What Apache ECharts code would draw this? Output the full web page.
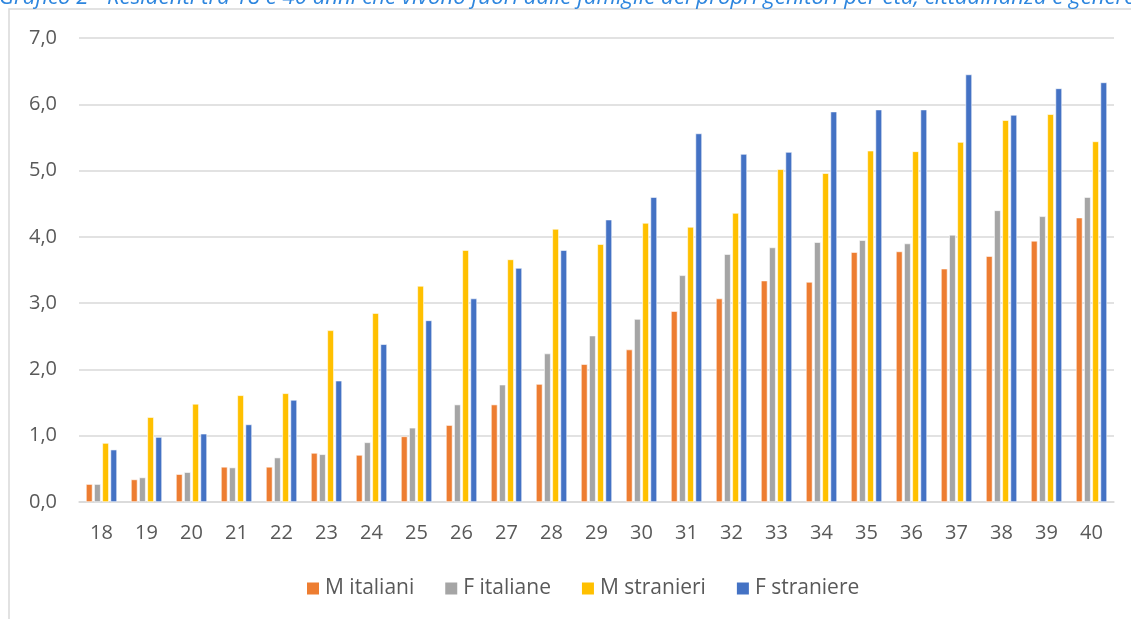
<!DOCTYPE html>
<html>
<head>
<meta charset="utf-8">
<script src="https://cdn.jsdelivr.net/npm/echarts@6/dist/echarts.min.js"></script>
<style>
html,body{margin:0;padding:0;background:#fff;}
#chart{width:1131px;height:619px;}
</style>
</head>
<body>
<div id="chart"></div>
<script>
const titleText = "Grafico 2 - Residenti tra 18 e 40 anni che vivono fuori dalle famiglie dei propri genitori per età, cittadinanza e genere";
const categories = ["18","19","20","21","22","23","24","25","26","27","28","29","30","31","32","33","34","35","36","37","38","39","40"];
const seriesNames = ["M italiani","F italiane","M stranieri","F straniere"];
const mItaliani = [0.27,0.34,0.42,0.53,0.53,0.74,0.71,0.99,1.16,1.47,1.78,2.08,2.30,2.88,3.07,3.34,3.32,3.77,3.78,3.52,3.71,3.94,4.29];
const fItaliane = [0.27,0.37,0.45,0.52,0.67,0.72,0.90,1.12,1.47,1.77,2.24,2.51,2.76,3.42,3.74,3.84,3.92,3.95,3.90,4.03,4.40,4.31,4.60];
const mStranieri = [0.89,1.28,1.48,1.61,1.64,2.59,2.85,3.26,3.80,3.66,4.12,3.89,4.21,4.15,4.36,5.02,4.96,5.30,5.29,5.43,5.76,5.85,5.44];
const fStraniere = [0.79,0.98,1.03,1.17,1.54,1.83,2.38,2.74,3.07,3.53,3.80,4.26,4.60,5.56,5.25,5.28,5.89,5.92,5.92,6.45,5.84,6.24,6.33];
const colors = ["#ED7D31","#A5A5A5","#FFC000","#4472C4"];

const chart = echarts.init(document.getElementById('chart'), null, {renderer:'canvas'});
const dataSets = [mItaliani, fItaliane, mStranieri, fStraniere];
const font = "'Open Sans', 'Noto Sans', sans-serif";

chart.setOption({
  animation: false,
  backgroundColor: '#fff',
  color: colors,
  textStyle: {fontFamily: font},
  graphic: [
    {
      type: 'rect', silent: true,
      shape: {x: 9, y: 9, width: 1200, height: 700},
      style: {fill: 'none', stroke: '#D9D9D9', lineWidth: 1.5}
    },
    {
      type: 'text', silent: true,
      x: -1, y: 9,
      style: {
        text: titleText,
        font: "italic 22.2px 'Open Sans', sans-serif",
        fill: '#2E86DE',
        verticalAlign: 'bottom'
      }
    }
  ],
  grid: {left: 79, right: 17, top: 38, bottom: 117, containLabel: false},
  legend: {
    left: 300, top: 573,
    itemWidth: 14, itemHeight: 14, itemGap: 29,
    icon: 'rect',
    textStyle: {fontSize: 21, color: '#595959', fontFamily: font},
    data: seriesNames
  },
  xAxis: {
    type: 'category',
    data: categories,
    axisLine: {lineStyle: {color: '#D9D9D9', width: 1.5}},
    axisTick: {show: false},
    axisLabel: {fontSize: 20, color: '#595959', margin: 21, fontFamily: font}
  },
  yAxis: {
    type: 'value',
    min: 0, max: 7, interval: 1,
    axisLine: {show: false},
    axisTick: {show: false},
    splitLine: {lineStyle: {color: '#D9D9D9', width: 1.5}},
    axisLabel: {
      fontSize: 20, color: '#595959', margin: 22, fontFamily: font,
      formatter: v => v.toFixed(1).replace('.', ',')
    }
  },
  series: seriesNames.map((n, i) => ({
    name: n,
    type: 'bar',
    data: dataSets[i],
    barGap: '25%',
    barCategoryGap: '31%',
    itemStyle: {color: colors[i], borderColor: '#fff', borderWidth: 0.6}
  }))
});
</script>
</body>
</html>
